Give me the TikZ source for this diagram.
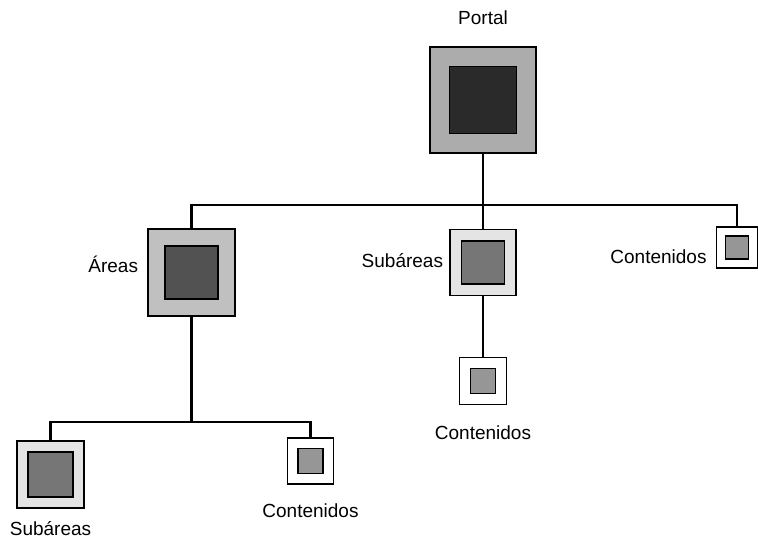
\documentclass[tikz,border=0pt]{standalone}
\usepackage{fontspec}
\setmainfont{Liberation Sans}
\usetikzlibrary{
    positioning,
    calc
}
\definecolor{PortalGray}{RGB}{172,172,172}
\definecolor{PortalDark}{RGB}{42,42,42}
\definecolor{AreaGray}{RGB}{192,192,192}
\definecolor{AreaDark}{RGB}{82,82,82}
\definecolor{SubGray}{RGB}{228,228,228}
\definecolor{SubDark}{RGB}{118,118,118}
\definecolor{ContDark}{RGB}{150,150,150}

\begin{document}
\begin{tikzpicture}[
    x=1pt, y=-1pt,
    outerbox/.style={draw=black, line width=1.5pt, inner sep=0pt, minimum size=#1},
    innerbox/.style={draw=black, line width=1.5pt, inner sep=0pt, minimum size=#1},
    link/.style={draw=black, line width=2.2pt},
    lbl/.style={inner sep=0pt, font=\fontsize{19}{22}\selectfont}
]
\useasboundingbox (0,0) rectangle (758,541);

% Boxes
\node[outerbox=106, fill=PortalGray] (portal) at (483,100) {};
\node[innerbox=67, fill=PortalDark] (portalin) at (portal) {};

\node[outerbox=87, fill=AreaGray] (areas) at (191.5,272.5) {};
\node[innerbox=53, fill=AreaDark] (areasin) at (areas) {};

\node[outerbox=66, fill=SubGray] (subareas) at (483,262.5) {};
\node[innerbox=43, fill=SubDark] (subareasin) at (subareas) {};

\node[outerbox=41, fill=white] (contright) at (737,247.5) {};
\node[innerbox=23, fill=ContDark] (contrightin) at (contright) {};

\node[outerbox=47, fill=white] (contmid) at (483,381) {};
\node[innerbox=25, fill=ContDark] (contmidin) at (contmid) {};

\node[outerbox=67, fill=SubGray] (subleft) at (50.5,474.5) {};
\node[innerbox=45, fill=SubDark] (subleftin) at (subleft) {};

\node[outerbox=46, fill=white] (contleft) at (310.5,461) {};
\node[innerbox=25, fill=ContDark] (contleftin) at (contleft) {};

% Labels
\node[lbl, above=21pt of portal] (portallbl) {Portal};
\node[lbl, left=9pt of areas, yshift=8pt] (areaslbl) {Áreas};
\node[lbl, left=6pt of subareas, yshift=2pt] (subareaslbl) {Subáreas};
\node[lbl, left=9pt of contright, yshift=-9pt] (contrightlbl) {Contenidos};
\node[lbl, below=20pt of contmid] (contmidlbl) {Contenidos};
\node[lbl, below=13pt of subleft] (subleftlbl) {Subáreas};
\node[lbl, below=19pt of contleft] (contleftlbl) {Contenidos};

% Connectors
\coordinate (topbar) at (0,205);
\coordinate (lowbar) at (0,422);
\draw[link] (portal.south) -- (portal.south |- topbar);
\draw[link] (areas.north) -- (areas.north |- topbar) -- (contright.north |- topbar) -- (contright.north);
\draw[link] (portal.south |- topbar) -- (subareas.north);
\draw[link] (subareas.south) -- (contmid.north);
\draw[link] (areas.south) -- (areas.south |- lowbar);
\draw[link] (subleft.north) -- (subleft.north |- lowbar) -- (contleft.north |- lowbar) -- (contleft.north);

\end{tikzpicture}
\end{document}
